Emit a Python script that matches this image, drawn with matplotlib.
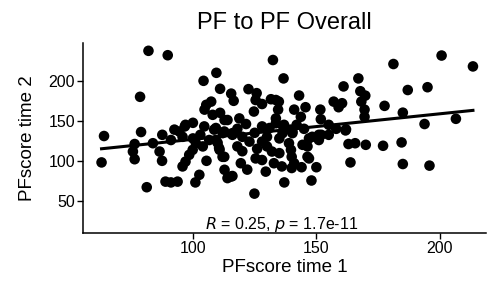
import numpy as np
import matplotlib.pyplot as plt

plt.rcParams["font.family"] = ["Liberation Sans", "DejaVu Sans"]

# PF score at time 1 and time 2
pf_time1 = [82, 89.8, 78.6, 64, 63, 79, 87.6, 76.4, 75.7, 76.4, 83.8, 86.5, 87.5, 81.3,
            88.9, 91.1, 93.8, 101, 102.6, 95.8, 97, 98.5, 99.9, 101.2, 105.5, 94.5, 91.1,
            95.8, 103, 106.6, 92.5, 96.7, 100, 104.6, 108.6, 104.3, 109.5, 111, 115.5,
            116.5, 122.5, 125.8, 132.4, 125.4, 128, 131.6, 105.4, 107.4, 104.7, 108, 111,
            112.8, 118.8, 121.5, 128, 131, 112, 116, 110, 110.8, 112, 112.8, 115.5, 114,
            116, 119.4, 122, 124.9, 125.4, 128, 129.5, 122.9, 128, 132.8, 136, 140, 144,
            150, 147, 140, 132, 135, 139.7, 137, 148, 138.9, 144.4, 146.4, 151, 155, 152,
            161.8, 163, 165.7, 170, 177, 184.5, 163.8, 185, 195.8, 193.8, 206.5, 133.6,
            136.3, 140.3, 141, 136.7, 143, 145.6, 141, 143.7, 151.6, 151.8, 157, 159, 161,
            167, 167.8, 169.8, 168.2, 160.4, 169.5, 169.5, 177.6, 181.2, 187, 195, 185,
            200.7, 213.4, 162, 133.6, 134.5, 133.6, 136.5, 140.3, 147, 151, 148.3, 109.3,
            112.7, 114, 124.7, 134.8, 139.6, 136.9, 110.6, 112.7, 109.3, 116, 146.4, 118,
            120, 125, 130, 135, 142, 145, 120, 126, 100, 104, 118, 130, 155, 158, 97]
pf_time2 = [237.5, 232, 180, 131, 98, 136, 132.5, 121, 111.6, 102, 122, 111.6, 100, 67,
            74, 73, 74, 73, 82.5, 93, 99, 107.5, 113.7, 122, 100, 136.6, 126,
            130, 132.5, 126, 139, 143, 147.5, 143, 139, 200, 210, 190, 184,
            175, 189.6, 184.6, 226, 176, 171, 177, 170, 174, 164, 157.5, 160,
            151, 153, 146, 143, 141, 134.6, 134.6, 122.5, 113.7, 105, 88.8, 80.4, 78.4,
            81, 97, 89, 59, 103, 101, 86.5, 124, 124, 97, 93, 91, 92,
            92, 103, 105, 111.6, 109.6, 113.7, 73, 75.4, 122, 120, 118, 126, 132.5, 132.5,
            138, 121, 122, 120, 118.8, 123, 98, 96, 94, 146, 152.5, 147,
            134.6, 134.6, 97, 203, 181.6, 167, 164, 155, 164, 152, 174, 167, 193,
            203, 187, 181.5, 174, 172, 164, 155, 168.7, 221, 188.5, 192, 160.2,
            231.6, 218, 139.3, 176, 164, 153, 143, 136.6, 128, 132.5, 130, 141,
            136.6, 151, 161.6, 174, 139, 145, 116, 105, 126, 132.5, 105, 140,
            130, 135, 130, 128, 145, 140, 112, 115, 128, 118, 118, 118, 145, 140, 145]

x = np.array(pf_time1)
y = np.array(pf_time2)
slope, intercept = np.polyfit(x, y, 1)
xfit = np.array([x.min(), x.max()])

fig = plt.figure(figsize=(4.87, 2.94), dpi=100)
ax = fig.add_axes([0.171, 0.207, 0.826, 0.646])

ax.scatter(x, y, s=58, color="black", edgecolors="none", zorder=2)
ax.plot(xfit, intercept + slope * xfit, color="black", lw=2.2, zorder=3)

ax.text(136, 15, r"$\it{R}$ = 0.25, $\it{p}$ = 1.7e-11", ha="center", va="baseline",
        fontsize=11.5)

ax.set_xlim(55.6, 218.5)
ax.set_ylim(9.6, 247)
ax.set_xticks([100, 150, 200])
ax.set_yticks([50, 100, 150, 200])
ax.tick_params(labelsize=11.5, length=4, width=1, colors="black", pad=2)
for side in ["top", "right"]:
    ax.spines[side].set_visible(False)
for side in ["left", "bottom"]:
    ax.spines[side].set_linewidth(1.1)

ax.set_xlabel("PFscore time 1", fontsize=13.5, labelpad=2)
ax.set_ylabel("PFscore time 2", fontsize=13.5, labelpad=9)
ax.set_title("PF to PF Overall", fontsize=17, pad=10)

fig.savefig("out.png", dpi=100)
